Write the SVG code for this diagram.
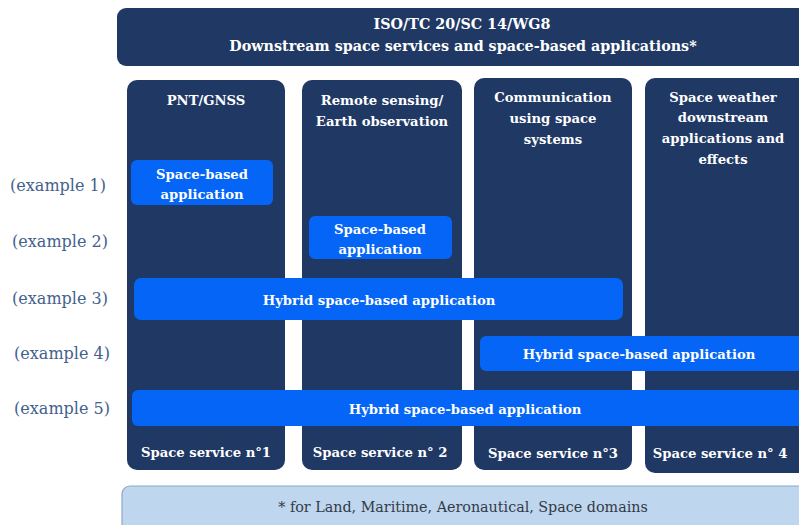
<svg xmlns="http://www.w3.org/2000/svg" width="799" height="525" viewBox="0 0 799 525">
  <style>
    .navy { fill: #203864; }
    .app { fill: #0565f7; }
    .w { fill: #ffffff; font-family: "DejaVu Serif", "Liberation Serif", serif; font-size: 13.2px; font-weight: bold; text-anchor: middle; }
    .wb { fill: #ffffff; font-family: "DejaVu Serif", "Liberation Serif", serif; font-size: 14.3px; font-weight: bold; text-anchor: middle; }
    .ex { fill: #43618c; font-family: "DejaVu Serif", "Liberation Serif", serif; font-size: 16px; text-anchor: middle; }
    .foot { fill: #333a48; font-family: "DejaVu Serif", "Liberation Serif", serif; font-size: 14.3px; text-anchor: middle; }
  </style>
  <rect width="799" height="525" fill="#ffffff"/>

  <!-- Working group header -->
  <g id="header">
    <rect class="navy" x="117" y="8" width="700" height="58" rx="9"/>
    <text class="wb" x="462" y="29">ISO/TC 20/SC 14/WG8</text>
    <text class="wb" x="463" y="51">Downstream space services and space-based applications*</text>
  </g>

  <!-- Space service columns -->
  <g id="service1">
    <rect class="navy" x="127" y="80" width="158" height="390" rx="10"/>
    <text class="w" x="206" y="105">PNT/GNSS</text>
    <text class="w" x="206" y="457">Space service n°1</text>
  </g>
  <g id="service2">
    <rect class="navy" x="302" y="80" width="160" height="390" rx="10"/>
    <text class="w" x="382" y="105">Remote sensing/</text>
    <text class="w" x="382" y="126">Earth observation</text>
    <text class="w" x="380" y="457">Space service n° 2</text>
  </g>
  <g id="service3">
    <rect class="navy" x="474" y="78" width="158" height="392" rx="10"/>
    <text class="w" x="553" y="102">Communication</text>
    <text class="w" x="553" y="123">using space</text>
    <text class="w" x="553" y="144">systems</text>
    <text class="w" x="553" y="458">Space service n°3</text>
  </g>
  <g id="service4">
    <rect class="navy" x="645" y="78" width="164" height="395" rx="10"/>
    <text class="w" x="723" y="102">Space weather</text>
    <text class="w" x="723" y="122">downstream</text>
    <text class="w" x="723" y="143">applications and</text>
    <text class="w" x="723" y="164">effects</text>
    <text class="w" x="720" y="458">Space service n° 4</text>
  </g>

  <!-- Applications -->
  <g id="example1">
    <text class="ex" x="58" y="191">(example 1)</text>
    <rect class="app" x="131" y="160" width="142" height="45" rx="6"/>
    <text class="w" x="202" y="179">Space-based</text>
    <text class="w" x="202" y="199">application</text>
  </g>
  <g id="example2">
    <text class="ex" x="60" y="247">(example 2)</text>
    <rect class="app" x="309" y="216" width="143" height="43" rx="6"/>
    <text class="w" x="380" y="234">Space-based</text>
    <text class="w" x="380" y="254">application</text>
  </g>
  <g id="example3">
    <text class="ex" x="60" y="304">(example 3)</text>
    <rect class="app" x="134" y="278" width="489" height="42" rx="7"/>
    <text class="w" x="379" y="305">Hybrid space-based application</text>
  </g>
  <g id="example4">
    <text class="ex" x="62" y="359">(example 4)</text>
    <rect class="app" x="480" y="336" width="330" height="35" rx="6"/>
    <text class="w" x="639" y="359">Hybrid space-based application</text>
  </g>
  <g id="example5">
    <text class="ex" x="62" y="414">(example 5)</text>
    <rect class="app" x="132" y="390" width="680" height="36" rx="6"/>
    <text class="w" x="465" y="414">Hybrid space-based application</text>
  </g>

  <!-- Domain footnote -->
  <g id="footnote">
    <rect x="122" y="486" width="700" height="50" rx="8" fill="#bed6ee" stroke="#8ea8c8" stroke-width="1.2"/>
    <text class="foot" x="463" y="512">* for Land, Maritime, Aeronautical, Space domains</text>
  </g>
</svg>
